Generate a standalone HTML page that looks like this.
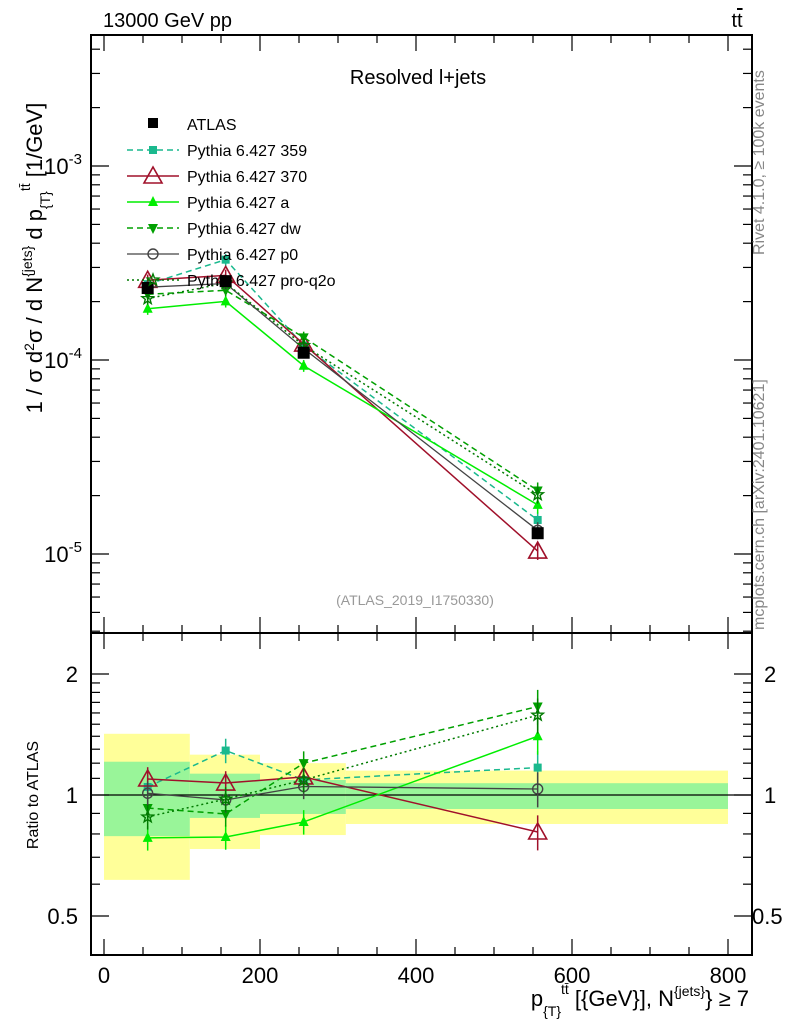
<!DOCTYPE html>
<html><head><meta charset="utf-8">
<style>
body{margin:0;background:#fff;}
svg{display:block;font-family:"Liberation Sans",sans-serif;}
</style></head>
<body>
<svg id="c" width="786" height="1024"></svg>
<script>
const xPoints=[56,156,256,556];
const binEdges=[0,110,200,310,800];
const atlasVals=[2.35e-4,2.55e-4,1.09e-4,1.28e-5];
const bandYellowLo=[0.615,0.734,0.795,0.847];
const bandYellowHi=[1.42,1.26,1.20,1.15];
const bandGreenLo=[0.79,0.877,0.897,0.923];
const bandGreenHi=[1.21,1.13,1.09,1.07];
const r359=[1.047,1.29,1.09,1.17];
const r370=[1.096,1.071,1.109,0.809];
const rA=[0.782,0.786,0.857,1.40];
const rDW=[0.928,0.897,1.20,1.66];
const rP0=[1.01,0.972,1.05,1.035];
const rPQ=[0.882,0.977,1.09,1.58];
const xTicks=[0,200,400,600,800];

const NS="http://www.w3.org/2000/svg";
const svg=document.getElementById('c');
function el(tag,attrs,parent){const e=document.createElementNS(NS,tag);for(const k in attrs)e.setAttribute(k,attrs[k]);(parent||svg).appendChild(e);return e;}
const L=91,R=752,T=35,MB=633,B=955;
const X=v=>104+v*0.78;
const Ym=v=>166-(Math.log10(v)+3)*194;
const Yr=v=>795-Math.log2(v)*121;

for(let i=0;i<4;i++){
  let r=el('rect',{x:X(binEdges[i]),y:Yr(bandYellowHi[i]),width:X(binEdges[i+1])-X(binEdges[i]),height:Yr(bandYellowLo[i])-Yr(bandYellowHi[i]),fill:'#ffff99'});
  
  
}
for(let i=0;i<4;i++){
  let r=el('rect',{x:X(binEdges[i]),y:Yr(bandGreenHi[i]),width:X(binEdges[i+1])-X(binEdges[i]),height:Yr(bandGreenLo[i])-Yr(bandGreenHi[i]),fill:'#99f599'});
  
  
}
el('line',{x1:L,x2:R,y1:Yr(1),y2:Yr(1),stroke:'#000','stroke-width':1.3});

let f1=el('rect',{x:L,y:T,width:R-L,height:MB-T,fill:'none',stroke:'#000','stroke-width':2});

let f2=el('rect',{x:L,y:MB,width:R-L,height:B-MB,fill:'none',stroke:'#000','stroke-width':2});


for(let v=0;v<=800;v+=50){
  const maj=v%200==0;const len=maj?16:8;
  el('line',{x1:X(v),x2:X(v),y1:B,y2:B-len,stroke:'#000','stroke-width':1.2});
  el('line',{x1:X(v),x2:X(v),y1:MB,y2:MB-len,stroke:'#000','stroke-width':1.2});
  el('line',{x1:X(v),x2:X(v),y1:T,y2:T+len,stroke:'#000','stroke-width':1.2});
  el('line',{x1:X(v),x2:X(v),y1:MB,y2:MB+len,stroke:'#000','stroke-width':1.2});
}
xTicks.forEach(v=>{let t=el('text',{x:X(v),y:983,'font-size':22,'text-anchor':'middle'});t.textContent=v;
});

for(let d=-6;d<=-2;d++){for(let m=1;m<10;m++){const v=m*Math.pow(10,d);const y=Ym(v);if(y<T||y>MB)continue;const len=m==1?18:9;
  el('line',{x1:L,x2:L+len,y1:y,y2:y,stroke:'#000','stroke-width':1.2});
  el('line',{x1:R,x2:R-len,y1:y,y2:y,stroke:'#000','stroke-width':1.2});}}
[-3,-4,-5].forEach(d=>{let t=el('text',{x:82,y:Ym(Math.pow(10,d))+8,'font-size':22,'text-anchor':'end'});
t.innerHTML='10<tspan dy="-10" font-size="15">'+d+'</tspan>';});

[0.5,0.6,0.7,0.8,0.9,1,2].forEach(v=>{const y=Yr(v);const len=(v==0.5||v==1||v==2)?18:9;
  el('line',{x1:L,x2:L+len,y1:y,y2:y,stroke:'#000','stroke-width':1.2});
  el('line',{x1:R,x2:R-len,y1:y,y2:y,stroke:'#000','stroke-width':1.2});});
for(let v=1.1;v<2;v+=0.1){const y=Yr(v);el('line',{x1:L,x2:L+9,y1:y,y2:y,stroke:'#000','stroke-width':1.2});el('line',{x1:R,x2:R-9,y1:y,y2:y,stroke:'#000','stroke-width':1.2});}
[[2,'2'],[1,'1'],[0.5,'0.5']].forEach(([v,s])=>{
 let t=el('text',{x:78,y:Yr(v)+8,'font-size':22,'text-anchor':'end'});t.textContent=s;
 let t2=el('text',{x:s=='0.5'?752:764,y:Yr(v)+8,'font-size':22});t2.textContent=s;});

function marker(type,x,y,c,g){
  if(type=='sq')el('rect',{x:x-4,y:y-4,width:8,height:8,fill:c},g);
  else if(type=='bigsq')el('rect',{x:x-6,y:y-6,width:12,height:12,fill:c},g);
  else if(type=='otri')el('polygon',{points:`${x},${y-9} ${x-9},${y+7} ${x+9},${y+7}`,fill:'none',stroke:c,'stroke-width':1.6},g);
  else if(type=='tri')el('polygon',{points:`${x},${y-6} ${x-5},${y+4} ${x+5},${y+4}`,fill:c},g);
  else if(type=='dtri')el('polygon',{points:`${x},${y+6} ${x-5},${y-4} ${x+5},${y-4}`,fill:c},g);
  else if(type=='circ')el('circle',{cx:x,cy:y,r:5,fill:'none',stroke:c,'stroke-width':1.4},g);
  else if(type=='star'){let p=[];for(let i=0;i<10;i++){const a=-Math.PI/2+i*Math.PI/5;const rr=i%2?2.5:6;p.push((x+rr*Math.cos(a))+','+(y+rr*Math.sin(a)));}el('polygon',{points:p.join(' '),fill:'none',stroke:c,'stroke-width':1.4},g);}
}
const series=[
 {name:'Pythia 6.427 359',r:r359,c:'#1ab98e',dash:'6,4',m:'sq',w:1.5,key:'359'},
 {name:'Pythia 6.427 370',r:r370,c:'#a0102a',dash:'',m:'otri',w:1.5,key:'370'},
 {name:'Pythia 6.427 a',r:rA,c:'#00ee00',dash:'',m:'tri',w:1.5,key:'a'},
 {name:'Pythia 6.427 dw',r:rDW,c:'#00a000',dash:'6,4',m:'dtri',w:1.5,key:'dw'},
 {name:'Pythia 6.427 p0',r:rP0,c:'#444444',dash:'',m:'circ',w:1.3,key:'p0'},
 {name:'Pythia 6.427 pro-q2o',r:rPQ,c:'#007a00',dash:'2,3',m:'star',w:1.5,key:'pro-q2o'}
];
series.forEach(s=>{
  const g=el('g',{});
  
  
  const mv=s.r.map((r,i)=>atlasVals[i]*r);
  el('polyline',{points:xPoints.map((x,i)=>X(x)+','+Ym(mv[i])).join(' '),fill:'none',stroke:s.c,'stroke-width':s.w,'stroke-dasharray':s.dash},g);
  el('polyline',{points:xPoints.map((x,i)=>X(x)+','+Yr(s.r[i])).join(' '),fill:'none',stroke:s.c,'stroke-width':s.w,'stroke-dasharray':s.dash},g);
  xPoints.forEach((x,i)=>{
    const e=i==3?0.1:0.07;
    el('line',{x1:X(x),x2:X(x),y1:Ym(mv[i]*(1+e)),y2:Ym(mv[i]*(1-e)),stroke:s.c,'stroke-width':1.5},g);
    el('line',{x1:X(x),x2:X(x),y1:Yr(s.r[i]*(1+e)),y2:Yr(s.r[i]*(1-e)),stroke:s.c,'stroke-width':1.5},g);
    marker(s.m,X(x),Ym(mv[i]),s.c,g);
    marker(s.m,X(x),Yr(s.r[i]),s.c,g);
  });
});
xPoints.forEach((x,i)=>{const g=el('g',{});
  
  
  marker('bigsq',X(x),Ym(atlasVals[i]),'#000',g);});

const lg=el('g',{});


let ly=124;
el('rect',{x:148,y:ly-6,width:10,height:10,fill:'#000'},lg);
let t=el('text',{x:187,y:ly+6,'font-size':16},lg);t.textContent='ATLAS';
series.forEach((s,i)=>{const y=150+i*26;
  el('line',{x1:127,x2:179,y1:y,y2:y,stroke:s.c,'stroke-width':s.w,'stroke-dasharray':s.dash},lg);
  marker(s.m,153,y,s.c,lg);
  let tt=el('text',{x:187,y:y+6,'font-size':16},lg);tt.textContent=s.name;
  });

function txt(x,y,s,attrs,name){let e=el('text',Object.assign({x:x,y:y},attrs));e.innerHTML=s;return e;}
txt(103,27,'13000 GeV pp',{'font-size':20},'title-energy');
txt(737,27,'t<tspan text-decoration="overline">t</tspan>',{'font-size':20,'text-anchor':'middle'},'title-process');
txt(418,84,'Resolved l+jets',{'font-size':20,'text-anchor':'middle'},'panel-title');
txt(415,605,'(ATLAS_2019_I1750330)',{'font-size':14,'text-anchor':'middle',fill:'#999'},'analysis-id');
txt(0,0,'Rivet 4.1.0, ≥ 100k events',{'font-size':16,fill:'#888',transform:'translate(764,255) rotate(-90)'},'rivet-label');
txt(0,0,'mcplots.cern.ch [arXiv:2401.10621]',{'font-size':16,fill:'#888',transform:'translate(764,630) rotate(-90)'},'mcplots-label');
txt(0,0,'1 / σ d<tspan dy="-8" font-size="14">2</tspan><tspan dy="8">σ / d N</tspan><tspan dy="-10" font-size="14">{jets}</tspan><tspan dy="10"> d p</tspan><tspan dy="8" font-size="14">{T}</tspan><tspan dy="-20" font-size="14">tt̄</tspan><tspan dy="12"> [1/GeV]</tspan>',{'font-size':22,'text-anchor':'middle',transform:'translate(42,258) rotate(-90)'},'y-axis-title');
txt(0,0,'Ratio to ATLAS',{'font-size':16,'text-anchor':'middle',transform:'translate(38,795) rotate(-90)'},'ratio-axis-title');
txt(749,1006,'p<tspan dy="10" font-size="14">{T}</tspan><tspan dy="-22" font-size="14">tt̄</tspan><tspan dy="12"> [{GeV}], N</tspan><tspan dy="-10" font-size="14">{jets}</tspan><tspan dy="10">} ≥ 7</tspan>',{'font-size':22,'text-anchor':'end'},'x-axis-title');
</script>
</body></html>
